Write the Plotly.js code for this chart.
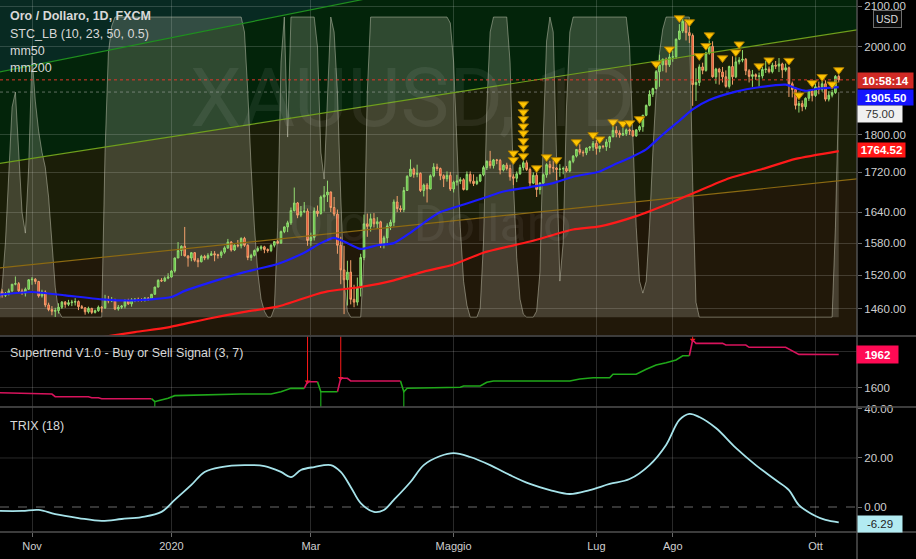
<!DOCTYPE html>
<html><head><meta charset="utf-8">
<script src="https://cdn.plot.ly/plotly-3.0.1.min.js"></script>
<style>html,body{margin:0;padding:0;background:#000;overflow:hidden}#chart{width:916px;height:559px}</style>
</head><body><div id="chart"></div>
<script>
// ---------- DATA ----------
const dates = ["2019-10-18","2019-10-21","2019-10-22","2019-10-23","2019-10-24","2019-10-25","2019-10-28","2019-10-29","2019-10-30","2019-10-31",
"2019-11-01","2019-11-04","2019-11-05","2019-11-06","2019-11-07","2019-11-08","2019-11-11","2019-11-12","2019-11-13","2019-11-14","2019-11-15","2019-11-18","2019-11-19","2019-11-20","2019-11-21","2019-11-22","2019-11-25","2019-11-26","2019-11-27","2019-11-28","2019-11-29",
"2019-12-02","2019-12-03","2019-12-04","2019-12-05","2019-12-06","2019-12-09","2019-12-10","2019-12-11","2019-12-12","2019-12-13","2019-12-16","2019-12-17","2019-12-18","2019-12-19","2019-12-20","2019-12-23","2019-12-24","2019-12-26","2019-12-27","2019-12-30","2019-12-31",
"2020-01-02","2020-01-03","2020-01-06","2020-01-07","2020-01-08","2020-01-09","2020-01-10","2020-01-13","2020-01-14","2020-01-15","2020-01-16","2020-01-17","2020-01-20","2020-01-21","2020-01-22","2020-01-23","2020-01-24","2020-01-27","2020-01-28","2020-01-29","2020-01-30","2020-01-31",
"2020-02-03","2020-02-04","2020-02-05","2020-02-06","2020-02-07","2020-02-10","2020-02-11","2020-02-12","2020-02-13","2020-02-14","2020-02-17","2020-02-18","2020-02-19","2020-02-20","2020-02-21","2020-02-24","2020-02-25","2020-02-26","2020-02-27","2020-02-28",
"2020-03-02","2020-03-03","2020-03-04","2020-03-05","2020-03-06","2020-03-09","2020-03-10","2020-03-11","2020-03-12","2020-03-13","2020-03-16","2020-03-17","2020-03-18","2020-03-19","2020-03-20","2020-03-23","2020-03-24","2020-03-25","2020-03-26","2020-03-27","2020-03-30","2020-03-31",
"2020-04-01","2020-04-02","2020-04-03","2020-04-06","2020-04-07","2020-04-08","2020-04-09","2020-04-13","2020-04-14","2020-04-15","2020-04-16","2020-04-17","2020-04-20","2020-04-21","2020-04-22","2020-04-23","2020-04-24","2020-04-27","2020-04-28","2020-04-29","2020-04-30",
"2020-05-01","2020-05-04","2020-05-05","2020-05-06","2020-05-07","2020-05-08","2020-05-11","2020-05-12","2020-05-13","2020-05-14","2020-05-15","2020-05-18","2020-05-19","2020-05-20","2020-05-21","2020-05-22","2020-05-25","2020-05-26","2020-05-27","2020-05-28","2020-05-29",
"2020-06-01","2020-06-02","2020-06-03","2020-06-04","2020-06-05","2020-06-08","2020-06-09","2020-06-10","2020-06-11","2020-06-12","2020-06-15","2020-06-16","2020-06-17","2020-06-18","2020-06-19","2020-06-22","2020-06-23","2020-06-24","2020-06-25","2020-06-26","2020-06-29","2020-06-30",
"2020-07-01","2020-07-02","2020-07-03","2020-07-06","2020-07-07","2020-07-08","2020-07-09","2020-07-10","2020-07-13","2020-07-14","2020-07-15","2020-07-16","2020-07-17","2020-07-20","2020-07-21","2020-07-22","2020-07-23","2020-07-24","2020-07-27","2020-07-28","2020-07-29","2020-07-30","2020-07-31",
"2020-08-03","2020-08-04","2020-08-05","2020-08-06","2020-08-07","2020-08-10","2020-08-11","2020-08-12","2020-08-13","2020-08-14","2020-08-17","2020-08-18","2020-08-19","2020-08-20","2020-08-21","2020-08-24","2020-08-25","2020-08-26","2020-08-27","2020-08-28","2020-08-31",
"2020-09-01","2020-09-02","2020-09-03","2020-09-04","2020-09-07","2020-09-08","2020-09-09","2020-09-10","2020-09-11","2020-09-14","2020-09-15","2020-09-16","2020-09-17","2020-09-18","2020-09-21","2020-09-22","2020-09-23","2020-09-24","2020-09-25","2020-09-28","2020-09-29","2020-09-30",
"2020-10-01","2020-10-02","2020-10-05","2020-10-06","2020-10-07","2020-10-08","2020-10-09","2020-10-12"];

const opens = [1492,1490,1484,1487,1492,1504,1505,1492,1488,1495,
1512,1513,1509,1483,1490,1467,1459,1456,1457,1463,1472,1468,1471,1472,1473,1464,1462,1455,1461,1454,1457,
1463,1462,1477,1474,1476,1460,1463,1465,1475,1469,1476,1477,1476,1475,1479,1478,1486,1499,1511,1510,1515,
1517,1528,1552,1566,1574,1556,1552,1562,1548,1545,1555,1552,1557,1560,1558,1557,1563,1571,1582,1567,1576,1575,
1589,1576,1553,1557,1566,1570,1573,1568,1566,1576,1583,1580,1602,1611,1619,1643,1658,1634,1641,1642,
1585,1591,1642,1637,1670,1674,1680,1649,1636,1576,1530,1512,1526,1477,1472,1497,1553,1617,1612,1627,1617,1621,
1577,1590,1613,1620,1660,1647,1645,1683,1712,1727,1716,1718,1683,1694,1686,1713,1731,1728,1713,1707,1714,
1686,1700,1702,1705,1685,1716,1702,1697,1702,1715,1730,1743,1734,1746,1745,1725,1735,1728,1711,1708,1717,
1730,1740,1726,1698,1714,1685,1698,1715,1736,1730,1729,1726,1727,1728,1723,1743,1754,1768,1762,1761,1771,1773,
1781,1770,1775,1774,1784,1795,1809,1803,1799,1802,1810,1808,1797,1810,1817,1842,1864,1889,1902,1941,1957,1970,1957,
1975,1976,2018,2038,2062,2034,2027,1911,1916,1952,1944,1985,2001,1929,1947,1940,1929,1907,1953,1929,1964,
1968,1970,1943,1930,1934,1930,1931,1946,1947,1941,1956,1954,1959,1945,1950,1913,1900,1864,1868,1861,1880,1897,
1886,1906,1900,1913,1878,1887,1893,1930];

const highs = [1495,1495,1490,1496,1504,1518,1508,1496,1498,1513,
1517,1515,1510,1494,1493,1471,1465,1462,1470,1474,1474,1476,1476,1479,1475,1467,1463,1464,1462,1459,1466,
1465,1485,1483,1481,1478,1467,1467,1477,1478,1479,1479,1480,1479,1481,1481,1486,1499,1513,1515,1518,1524,
1530,1553,1582,1576,1611,1557,1563,1563,1552,1558,1558,1561,1565,1565,1560,1566,1574,1588,1584,1578,1586,1591,
1592,1578,1560,1568,1574,1576,1575,1570,1578,1584,1586,1604,1612,1623,1649,1689,1660,1652,1660,1647,
1600,1649,1653,1673,1692,1703,1681,1670,1645,1592,1575,1547,1548,1503,1516,1560,1635,1637,1637,1638,1630,1623,
1594,1618,1625,1665,1672,1653,1690,1714,1747,1730,1736,1720,1697,1698,1716,1739,1738,1730,1716,1722,1721,
1703,1715,1710,1708,1722,1722,1716,1711,1717,1734,1745,1765,1748,1748,1748,1737,1740,1736,1716,1722,1736,
1745,1745,1730,1720,1727,1700,1718,1739,1744,1745,1731,1737,1732,1733,1745,1756,1769,1779,1766,1772,1775,1786,
1788,1776,1777,1790,1797,1818,1818,1809,1817,1813,1813,1810,1812,1820,1843,1866,1898,1904,1945,1981,1972,1974,1984,
1991,2020,2055,2075,2068,2049,2032,1949,1958,1962,1988,2015,2013,1950,1950,1952,1944,1955,1977,1975,1975,
1992,1973,1947,1945,1937,1939,1952,1966,1953,1962,1966,1973,1962,1960,1953,1918,1905,1874,1875,1882,1899,1900,
1917,1918,1920,1921,1896,1899,1933,1934];

const lows = [1484,1480,1481,1484,1490,1502,1490,1485,1482,1494,
1503,1504,1480,1480,1463,1456,1449,1446,1452,1460,1462,1465,1465,1466,1458,1460,1450,1452,1451,1452,1455,
1454,1460,1470,1472,1458,1457,1460,1461,1467,1464,1472,1473,1473,1473,1474,1477,1485,1498,1508,1508,1513,
1516,1525,1552,1556,1555,1536,1546,1545,1535,1544,1548,1549,1557,1546,1551,1552,1560,1569,1564,1565,1572,1570,
1573,1548,1547,1555,1563,1566,1561,1562,1563,1572,1578,1579,1599,1601,1615,1641,1628,1630,1638,1575,
1575,1585,1631,1635,1641,1660,1640,1632,1560,1504,1451,1466,1468,1463,1466,1482,1548,1592,1602,1610,1607,1571,
1570,1580,1605,1612,1640,1640,1640,1682,1712,1709,1710,1680,1671,1659,1685,1710,1723,1704,1690,1701,1682,
1679,1693,1696,1683,1683,1697,1692,1694,1700,1712,1725,1728,1728,1737,1716,1722,1724,1703,1694,1700,1715,
1724,1723,1691,1696,1670,1675,1693,1709,1716,1720,1704,1711,1716,1720,1720,1739,1751,1757,1753,1756,1765,1765,
1757,1762,1770,1765,1771,1794,1794,1793,1797,1797,1799,1795,1795,1806,1806,1840,1862,1883,1900,1906,1942,1939,1952,
1964,1971,2016,2033,2015,2009,1863,1874,1908,1935,1941,1981,1927,1913,1911,1916,1904,1902,1911,1926,1958,
1963,1933,1916,1906,1922,1906,1925,1938,1937,1937,1947,1940,1926,1941,1883,1882,1855,1848,1851,1855,1874,1873,
1883,1889,1895,1873,1873,1882,1890,1916];

const closes = [1490,1484,1487,1492,1504,1505,1492,1488,1495,1512,
1513,1509,1483,1490,1467,1459,1456,1457,1463,1472,1468,1471,1472,1473,1464,1462,1455,1461,1454,1457,1463,
1462,1477,1474,1476,1460,1463,1465,1475,1469,1476,1477,1476,1475,1479,1478,1486,1499,1511,1510,1515,1517,
1528,1552,1566,1574,1556,1552,1562,1548,1545,1555,1552,1557,1560,1558,1557,1563,1571,1582,1567,1576,1575,1589,
1576,1553,1557,1566,1570,1573,1568,1566,1576,1583,1580,1602,1611,1619,1643,1658,1634,1641,1642,1585,
1591,1642,1637,1670,1674,1680,1649,1636,1576,1530,1512,1526,1477,1472,1497,1553,1617,1612,1627,1617,1621,1577,
1590,1613,1620,1660,1647,1645,1683,1712,1727,1716,1718,1683,1694,1686,1713,1731,1728,1713,1707,1714,1686,
1700,1702,1705,1685,1716,1702,1697,1702,1715,1730,1743,1734,1746,1745,1725,1735,1728,1711,1708,1717,1730,
1740,1726,1698,1714,1685,1698,1715,1736,1730,1729,1726,1727,1728,1723,1743,1754,1768,1762,1761,1771,1773,1781,
1770,1775,1774,1784,1795,1809,1803,1799,1802,1810,1808,1797,1810,1817,1842,1864,1889,1902,1941,1957,1970,1957,1975,
1976,2018,2038,2062,2034,2027,1911,1916,1952,1944,1985,2001,1929,1947,1940,1929,1907,1953,1929,1964,1968,
1970,1943,1930,1934,1930,1931,1946,1947,1941,1956,1954,1959,1945,1950,1913,1900,1864,1868,1861,1880,1897,1886,
1906,1900,1913,1878,1887,1893,1930,1922];

// moving averages
const ma50Dates = ["2019-10-18","2019-11-01","2019-11-15","2019-12-02","2019-12-16","2020-01-02","2020-01-08","2020-01-17","2020-02-03","2020-02-17","2020-02-27","2020-03-05","2020-03-11","2020-03-16","2020-03-23","2020-03-30","2020-04-06","2020-04-14","2020-04-20","2020-04-27","2020-05-07","2020-05-15","2020-05-22","2020-06-03","2020-06-12","2020-06-22","2020-07-02","2020-07-08","2020-07-15","2020-07-22","2020-07-29","2020-08-05","2020-08-11","2020-08-18","2020-08-28","2020-09-08","2020-09-18","2020-09-23","2020-09-28","2020-10-02","2020-10-12"];
const ma50Vals = [1485,1490,1484,1477,1475,1481,1492,1506,1526,1541,1562,1580,1590,1583,1569,1576,1580,1600,1619,1640,1657,1670,1681,1690,1698,1711,1722,1735,1750,1768,1800,1830,1855,1876,1895,1905,1911,1903,1897,1902,1905.5];
const ma200Dates = ["2019-10-18","2019-11-15","2019-12-16","2019-12-31","2020-01-17","2020-02-03","2020-02-17","2020-03-02","2020-03-09","2020-03-23","2020-04-06","2020-04-20","2020-05-01","2020-05-14","2020-06-03","2020-06-22","2020-07-02","2020-07-17","2020-08-03","2020-08-12","2020-08-26","2020-09-09","2020-09-23","2020-10-12"];
const ma200Vals = [1385,1402,1420,1428,1443,1455,1464,1483,1491,1499,1511,1527,1540,1562,1583,1606,1612,1632,1660,1680,1708,1727,1748,1764.52];

// sell-signal triangles (STC)
const sigDates = ["2020-05-27","2020-05-27","2020-06-01","2020-06-01","2020-06-01","2020-06-01","2020-06-01","2020-06-01","2020-06-01","2020-06-01","2020-06-05","2020-06-10","2020-06-15","2020-06-23","2020-06-30","2020-07-02","2020-07-08","2020-07-13","2020-07-15","2020-07-20","2020-07-27","2020-07-31","2020-08-05","2020-08-10","2020-08-13","2020-08-17","2020-08-18","2020-08-24","2020-08-28","2020-08-31","2020-09-08","2020-09-11","2020-09-21","2020-09-24","2020-09-30","2020-10-05","2020-10-08","2020-10-12"];
const sigLevels = [1760,1746,1867,1849,1834,1818,1803,1786,1771,1754,1729,1752,1746,1784,1799,1790,1827,1824,1825,1834,1959,1994,2070,2060,1978,2002,2028,1973,1987,2006,1954,1968,1967,1887,1915,1929,1912,1945];

// STC oscillator (0-100)
const stcDates = ["2019-10-18","2019-10-21","2019-10-22","2019-10-23","2019-10-24","2019-10-25","2019-10-28","2019-10-29","2019-10-30","2019-10-31","2019-11-01","2019-11-04","2019-11-05","2019-11-06","2019-11-07","2019-11-08","2019-11-11","2019-11-12","2019-11-13","2019-11-14","2019-12-02","2019-12-03","2019-12-04","2019-12-05","2019-12-06","2020-01-31","2020-02-03","2020-02-04","2020-02-05","2020-02-06","2020-02-07","2020-02-10","2020-02-11","2020-02-12","2020-02-13","2020-02-14","2020-02-17","2020-02-18","2020-02-19","2020-02-20","2020-02-21","2020-03-03","2020-03-04","2020-03-05","2020-03-06","2020-03-09","2020-03-10","2020-03-11","2020-03-12","2020-03-13","2020-03-16","2020-03-17","2020-03-18","2020-03-23","2020-03-24","2020-03-25","2020-03-26","2020-04-29","2020-04-30","2020-05-01","2020-05-04","2020-05-05","2020-05-06","2020-05-07","2020-05-08","2020-05-12","2020-05-13","2020-05-14","2020-05-15","2020-05-18","2020-05-19","2020-05-25","2020-05-26","2020-05-27","2020-05-28","2020-05-29","2020-06-01","2020-06-02","2020-06-04","2020-06-05","2020-06-08","2020-06-09","2020-06-10","2020-06-11","2020-06-12","2020-06-15","2020-06-16","2020-06-17","2020-06-18","2020-06-19","2020-06-22","2020-07-14","2020-07-15","2020-07-16","2020-07-17","2020-07-20","2020-07-21","2020-07-22","2020-07-23","2020-07-24","2020-07-27","2020-07-28","2020-07-29","2020-07-30","2020-08-10","2020-08-11","2020-08-12","2020-08-13","2020-10-08","2020-10-09","2020-10-12"];
const stcVals = [5,10,25,50,70,75,55,35,28,50,87,72,62,55,50,40,25,10,2,0,0,55,88,97,100,100,95,75,50,30,15,6,2,0,0,3,30,85,100,60,100,100,90,55,46,75,100,95,75,40,12,2,0,0,20,75,100,100,98,85,55,30,12,4,0,0,3,25,70,95,100,100,85,45,20,6,1,0,0,2,15,60,92,100,95,55,12,25,70,95,100,100,90,60,30,12,8,12,30,55,75,88,96,100,100,45,5,0,0,30,75];
const stcLevel = 75;

// regression channel drawings (endpoints)
const chDates = ["2019-10-18","2020-10-20"];
const chTop = [1939.7, 2384];
const chMid = [1738.1, 2041.6];
const chLow = [1533.4, 1707.0];

// Supertrend
const stRedDates = ["2019-10-18","2019-11-06","2019-11-07","2019-11-11","2019-11-12","2019-11-26","2019-11-27","2019-11-29","2019-12-02","2019-12-23",null,
"2020-02-27","2020-02-28","2020-03-04",null,
"2020-03-12","2020-03-13","2020-03-17","2020-03-18","2020-04-08",null,
"2020-08-10","2020-08-11","2020-08-12","2020-08-24","2020-08-25","2020-09-02","2020-09-03","2020-09-18","2020-09-24","2020-10-12"];
const stRedVals = [1549,1540,1535,1535,1506,1506,1495,1495,1484,1484,null,
1596,1668,1668,null,
1560,1705,1705,1676,1676,null,
1949,2119,2083,2083,2065,2065,2040,2040,1964,1962];
const stGreenDates = ["2019-12-23","2019-12-24","2019-12-26","2019-12-31","2020-01-03","2020-01-13","2020-01-31","2020-02-13","2020-02-18","2020-02-21","2020-02-27",null,
"2020-03-04","2020-03-05","2020-03-12",null,
"2020-04-08","2020-04-09","2020-04-13","2020-04-22","2020-05-05","2020-05-06","2020-05-13","2020-05-15","2020-05-19","2020-06-19","2020-06-24","2020-06-30","2020-07-07","2020-07-08","2020-07-17","2020-07-22","2020-07-27","2020-07-30","2020-08-04","2020-08-06","2020-08-10"];
const stGreenVals = [1484,1452,1463,1489,1517,1524,1535,1535,1560,1596,1596,null,
1668,1560,1560,null,
1676,1560,1598,1603,1608,1622,1622,1662,1676,1676,1697,1711,1711,1748,1748,1802,1849,1874,1903,1949,1949];
const sellDates = ["2020-02-28","2020-03-13","2020-08-11"];
const sellLevels = [1668,1705,2119];
const buyDates = ["2019-12-24","2020-03-05","2020-04-09"];
const buyLevels = [1452,1560,1560];

// TRIX (18)
const trixDates = ["2019-10-18","2019-10-29","2019-11-05","2019-11-12","2019-11-21","2019-12-02","2019-12-10","2019-12-18","2019-12-27","2020-01-03","2020-01-10","2020-01-16","2020-01-23","2020-02-03","2020-02-11","2020-02-18","2020-02-21","2020-02-26","2020-03-03","2020-03-10","2020-03-13","2020-03-18","2020-03-23","2020-03-27","2020-04-01","2020-04-06","2020-04-14","2020-04-20","2020-04-27","2020-05-01","2020-05-08","2020-05-18","2020-05-26","2020-06-03","2020-06-11","2020-06-19","2020-06-29","2020-07-07","2020-07-15","2020-07-23","2020-07-30","2020-08-05","2020-08-10","2020-08-13","2020-08-20","2020-08-28","2020-09-07","2020-09-15","2020-09-21","2020-09-24","2020-10-01","2020-10-06","2020-10-12"];
const trixVals = [-1.6,-1.6,-1.2,-2.9,-4.5,-5.7,-4.9,-4.1,-2.0,2.9,9.0,14.3,16.3,17.1,16.7,14.3,12.2,15.1,16.3,17.1,14.3,8.2,1.6,-2.0,-1.2,2.9,10.2,17.1,20.8,22.0,20.4,17.1,13.0,9.4,6.9,5.3,6.9,9.4,11.4,17.1,25.3,35.5,38.0,36.7,32.2,24.1,17.1,11.0,6.9,0.8,-3.7,-5.3,-6.29];

// axis ticks
const xTickDates = ["2019-11-01","2020-01-02","2020-03-02","2020-05-01","2020-07-01","2020-08-03","2020-10-01"];
const xTickLabels = ["Nov","2020","Mar","Maggio","Lug","Ago","Ott"];
const priceTicks = [1460,1520,1580,1640,1720,1800,2000,2100];
const stTicks = [1600,2000];
const trixTicks = [0,20,40];

// ---------- LAYOUT HELPERS ----------
const PW = 916, PH = 532;
const px = v => v / PW;
const py = v => (PH - v) / PH;
const xRange = ["2019-10-18 08:40","2020-10-19 12:00"];
const priceRange = [Math.log10(1414.8), Math.log10(2115.3)];
const stRange = [1394.6, 2160];
const trixRange = [-10.2, 40.8];
const stcRange = [-6, 105.67];
const GRID = 'rgba(255,255,255,0.16)';
const LBL = '#cfcfcf';
const FONT = 'Liberation Sans, Arial, sans-serif';

const traces = [];
// channel lines
[[chTop,'#1f8f1f'],[chMid,'#6f9f1c'],[chLow,'#8c6a12']].forEach(([v,c]) => {
  traces.push({type:'scatter', mode:'lines', x:chDates, y:v, yaxis:'y5', line:{color:c, width:1.2}, hoverinfo:'skip'});
});
// STC overlay
traces.push({type:'scatter', mode:'lines', x:stcDates, y:stcVals, yaxis:'y4', fill:'tozeroy',
  fillcolor:'rgba(205,205,185,0.22)', line:{color:'rgba(215,215,195,0.45)', width:1}, hoverinfo:'skip'});
traces.push({type:'scatter', mode:'lines', x:[xRange[0], xRange[1]], y:[stcLevel, stcLevel], yaxis:'y4',
  line:{color:'rgba(170,170,170,0.55)', width:1, dash:'dot'}, hoverinfo:'skip'});
// moving averages
traces.push({type:'scatter', mode:'lines', x:ma200Dates, y:ma200Vals, yaxis:'y5', line:{color:'#ff1a1a', width:2.2, shape:'spline', smoothing:0.6}});
traces.push({type:'scatter', mode:'lines', x:ma50Dates, y:ma50Vals, yaxis:'y5', line:{color:'#1c1cff', width:2.2, shape:'spline', smoothing:0.6}});
// last price line
traces.push({type:'scatter', mode:'lines', x:[xRange[0], xRange[1]], y:[closes[closes.length-1], closes[closes.length-1]], yaxis:'y5',
  line:{color:'#e0362c', width:1, dash:'dot'}, hoverinfo:'skip'});
// candles
traces.push({type:'candlestick', x:dates, open:opens, high:highs, low:lows, close:closes, yaxis:'y5',
  width: 0.62*86400000,
  increasing:{line:{color:'#93dc72', width:1}, fillcolor:'#55bb35'},
  decreasing:{line:{color:'#f3a06c', width:1}, fillcolor:'#e2402a'}, hoverinfo:'skip'});
// signal triangles
traces.push({type:'scatter', mode:'markers', x:sigDates, y:sigLevels, yaxis:'y5',
  marker:{symbol:'triangle-down', size:9, color:'#ffc400', line:{color:'#a87a00', width:1}}, hoverinfo:'skip'});

// Supertrend
sellDates.forEach((d,i) => traces.push({type:'scatter', mode:'lines', x:[d,d], y:[stRange[1], sellLevels[i]], yaxis:'y2',
  line:{color:'#ff1a1a', width:1}, hoverinfo:'skip'}));
traces.push({type:'scatter', mode:'markers', x:sellDates, y:sellLevels, yaxis:'y2',
  marker:{symbol:'triangle-down', size:5, color:'#ff1a1a', line:{width:0}}, hoverinfo:'skip'});
buyDates.forEach((d,i) => traces.push({type:'scatter', mode:'lines', x:[d,d], y:[buyLevels[i], stRange[0]], yaxis:'y2',
  line:{color:'#1ec41e', width:1}, hoverinfo:'skip'}));
traces.push({type:'scatter', mode:'lines', x:stRedDates, y:stRedVals, yaxis:'y2', connectgaps:false, line:{color:'#d8135c', width:1.6}});
traces.push({type:'scatter', mode:'lines', x:stGreenDates, y:stGreenVals, yaxis:'y2', connectgaps:false, line:{color:'#20a81a', width:1.6}});

// TRIX
traces.push({type:'scatter', mode:'lines', x:trixDates, y:trixVals, yaxis:'y3', line:{color:'#a6e3ea', width:1.8, shape:'spline', smoothing:1}});

// ---------- SHAPES ----------
const path = (a, b) => `M${chDates[0]},${a[0]} L${chDates[1]},${a[1]} L${chDates[1]},${b[1]} L${chDates[0]},${b[0]} Z`;
const floorV = [1000,1000], ceilV = [5000,5000];
const shapes = [
  {type:'path', xref:'x', yref:'y', layer:'below', path:path(floorV, chLow), fillcolor:'#211809', line:{width:0}},
  {type:'path', xref:'x', yref:'y', layer:'below', path:path(chLow, chMid), fillcolor:'#1b1e08', line:{width:0}},
  {type:'path', xref:'x', yref:'y', layer:'below', path:path(chMid, chTop), fillcolor:'#03240a', line:{width:0}},
  {type:'path', xref:'x', yref:'y', layer:'below', path:path(chTop, ceilV), fillcolor:'#082a22', line:{width:0}},
  {type:'line', xref:'x', yref:'y3', layer:'below', x0:xRange[0], x1:xRange[1], y0:20, y1:20, line:{color:GRID, width:1}},
  {type:'line', xref:'x', yref:'y3', layer:'below', x0:xRange[0], x1:xRange[1], y0:0, y1:0, line:{color:'#6a6a6a', width:1, dash:'dash'}},
  // pane separators
  {type:'line', xref:'paper', yref:'paper', x0:0, x1:1, y0:py(336), y1:py(336), line:{color:'#505050', width:1.5}},
  {type:'line', xref:'paper', yref:'paper', x0:0, x1:1, y0:py(407), y1:py(407), line:{color:'#505050', width:1.5}},
  {type:'line', xref:'paper', yref:'paper', x0:0, x1:1, y0:py(532), y1:py(532), line:{color:'#505050', width:1.5}},
  {type:'line', xref:'paper', yref:'paper', x0:px(857), x1:px(857), y0:py(559), y1:1, line:{color:'#505050', width:1.5}}
];

// ---------- ANNOTATIONS ----------
const ann = [];
const txt = (x, y, t, size, color, extra) => ann.push(Object.assign({xref:'paper', yref:'paper', x:px(x), y:py(y), text:t,
  showarrow:false, xanchor:'left', yanchor:'middle', font:{family:FONT, size:size, color:color}}, extra||{}));
// watermarks
ann.push({xref:'paper', yref:'paper', x:px(412), y:py(98), text:'XAUUSD, 1D', showarrow:false, xanchor:'center', yanchor:'middle',
  font:{family:'Roboto, sans-serif', size:82, color:'rgba(255,255,255,0.07)'}});
ann.push({xref:'paper', yref:'paper', x:px(430), y:py(224), text:'Oro / Dollaro', showarrow:false, xanchor:'center', yanchor:'middle',
  font:{family:'Roboto, sans-serif', size:50, color:'rgba(255,255,255,0.06)'}});
txt(8, 16.5, '<b>Oro / Dollaro, 1D, FXCM</b>', 12.5, '#d8d8d8');
txt(8, 33.5, 'STC_LB (10, 23, 50, 0.5)', 12.5, '#d8d8d8');
txt(8, 51, 'mm50', 12.5, '#d8d8d8');
txt(8, 68, 'mm200', 12.5, '#d8d8d8');
txt(8, 353, 'Supertrend V1.0 - Buy or Sell Signal (3, 7)', 12.5, '#d8d8d8');
txt(8, 426, 'TRIX (18)', 12.5, '#d8d8d8');
// price scale labels
const box = (x, y, w, h, t, bg, fg, bold) => ann.push({xref:'paper', yref:'paper', x:px(x), y:py(y), text: bold ? '<b>'+t+'</b>' : t,
  showarrow:false, xanchor:'left', yanchor:'middle', width:w, height:h, align:'center', valign:'middle', bgcolor:bg, borderpad:0,
  font:{family:FONT, size:11.5, color:fg}});
box(857, 80.5, 55, 15, '10:58:14', '#d02a25', '#ffffff', true);
box(857, 97.5, 55, 15, '1905.50', '#1414ff', '#ffffff', true);
box(857, 114, 44, 16, '75.00', '#f0f0f0', '#333333', false);
box(857, 150, 47, 14, '1764.52', '#ff1616', '#ffffff', true);
box(856, 354.5, 41, 17, '1962', '#ff0a54', '#ffffff', true);
box(857, 524, 44, 16, '-6.29', '#b2ebf2', '#222222', false);
ann.push({xref:'paper', yref:'paper', x:px(887), y:py(19.5), text:'USD', showarrow:false, xanchor:'center', yanchor:'middle',
  bgcolor:'#0b0b0b', bordercolor:'#6e6e6e', borderwidth:1, borderpad:2, font:{family:FONT, size:10.5, color:'#dddddd'}});

const axBase = {showline:false, zeroline:false, fixedrange:true};
const layout = {
  width:916, height:559, margin:{l:0, r:0, t:0, b:27, pad:0},
  paper_bgcolor:'#000000', plot_bgcolor:'rgba(0,0,0,0)', showlegend:false,
  font:{family:FONT, color:LBL, size:11},
  xaxis: Object.assign({}, axBase, {type:'date', domain:[0, px(857)], range:xRange, anchor:'y3',
    rangebreaks:[{bounds:['sat','mon']}, {values:['2019-12-25','2020-01-01','2020-04-10']}],
    tickmode:'array', tickvals:xTickDates, ticktext:xTickLabels, showgrid:true, gridcolor:GRID, gridwidth:1,
    ticks:'outside', ticklen:4, tickcolor:'#6a6a6a', tickfont:{family:FONT, size:11, color:LBL}, rangeslider:{visible:false}}),
  yaxis: Object.assign({}, axBase, {type:'log', domain:[0.37, 1], range:priceRange, side:'right', anchor:'x',
    tickmode:'array', tickvals:priceTicks, ticktext:priceTicks.map(v => v.toFixed(2)), showgrid:true, gridcolor:GRID,
    ticks:'outside', ticklen:4, tickcolor:'#6a6a6a', tickfont:{family:FONT, size:11.5, color:LBL}}),
  yaxis2: Object.assign({}, axBase, {domain:[0.235, 0.368], range:stRange, side:'right', anchor:'x',
    tickmode:'array', tickvals:stTicks, ticktext:stTicks.map(v => v === 2000 ? '' : String(v)), showgrid:true, gridcolor:GRID,
    ticks:'outside', ticklen:4, tickcolor:'#6a6a6a', tickfont:{family:FONT, size:11.5, color:LBL}}),
  yaxis3: Object.assign({}, axBase, {domain:[0, 0.235], range:trixRange, side:'right', anchor:'x',
    tickmode:'array', tickvals:trixTicks, ticktext:trixTicks.map(v => v.toFixed(2)), showgrid:false,
    ticks:'outside', ticklen:4, tickcolor:'#6a6a6a', tickfont:{family:FONT, size:11.5, color:LBL}}),
  yaxis4: Object.assign({}, axBase, {overlaying:'y', range:stcRange, visible:false, anchor:'x'}),
  yaxis5: Object.assign({}, axBase, {overlaying:'y', type:'log', range:priceRange, visible:false, anchor:'x'}),
  shapes: shapes,
  annotations: ann
};
Plotly.newPlot('chart', traces, layout, {staticPlot:true, displayModeBar:false});
</script>
</body></html>
